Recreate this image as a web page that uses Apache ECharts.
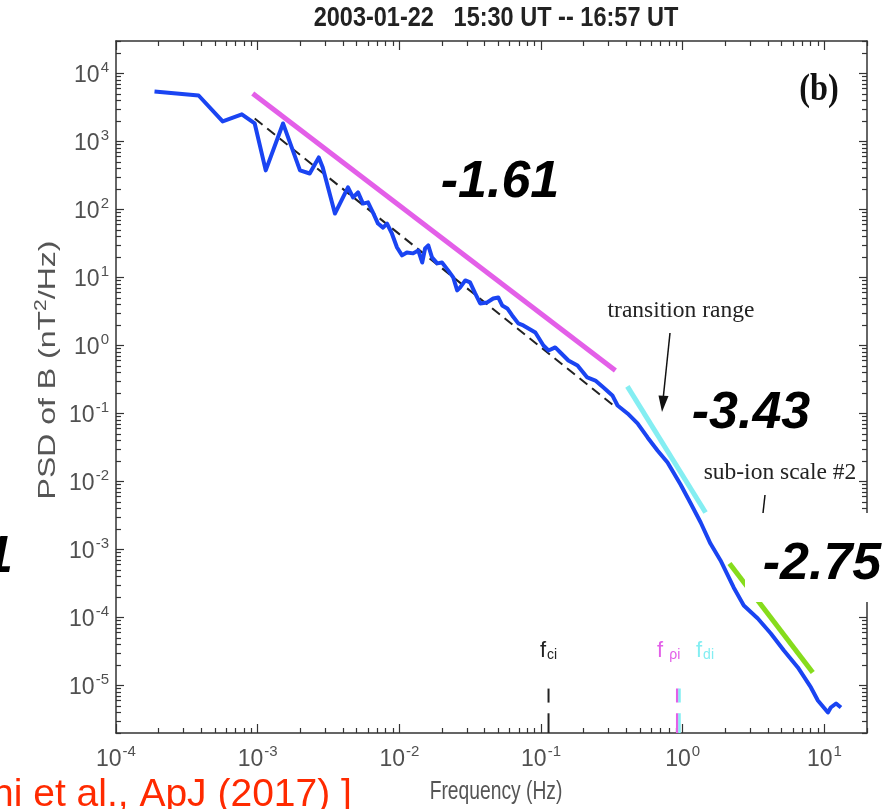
<!DOCTYPE html>
<html lang="en">
<head>
  <meta charset="UTF-8">
  <title>PSD of B</title>
  <script src="https://cdn.jsdelivr.net/npm/echarts@6/dist/echarts.min.js"></script>
  <style>
    html, body { margin: 0; padding: 0; background: #fff; }
    #chart { width: 884px; height: 809px; }
  </style>
</head>
<body>
  <div id="chart"></div>
</body>
</html>
<script>
  // PSD of B
  const freq = [1.87e-4, 3.83e-4, 5.66e-4, 7.73e-4, 9.53e-4, 1.14e-3, 1.51e-3, 1.99e-3, 2.33e-3, 2.70e-3,
    2.88e-3, 3.51e-3, 4.34e-3, 4.71e-3, 5.11e-3, 5.54e-3, 6.01e-3, 6.52e-3, 7.07e-3, 7.67e-3,
    8.19e-3, 8.87e-3, 9.63e-3, 1.045e-2, 1.13e-2, 1.25e-2, 1.36e-2, 1.45e-2, 1.52e-2, 1.60e-2,
    1.70e-2, 1.85e-2, 2.00e-2, 2.21e-2, 2.40e-2, 2.56e-2, 2.69e-2, 2.92e-2, 3.16e-2, 3.43e-2,
    3.72e-2, 4.17e-2, 4.60e-2, 4.99e-2, 5.32e-2, 5.78e-2, 6.26e-2, 6.91e-2, 7.50e-2, 9.12e-2,
    0.104, 0.113, 0.126, 0.137, 0.156, 0.181, 0.212, 0.242, 0.276, 0.319,
    0.347, 0.408, 0.480, 0.565, 0.664, 0.782, 0.966, 1.14, 1.34, 1.57,
    1.85, 2.29, 2.70, 3.39, 4.19, 5.18, 6.50, 8.04, 9.00, 10.6,
    11.1, 12.1, 13.1];
  const psd = [5430, 4740, 1970, 2500, 1840, 375, 1840, 375, 338, 582,
    415, 87, 211, 150, 178, 122, 127, 90, 62, 54,
    62, 44, 27.6, 21.1, 23.3, 22.6, 25, 16.6, 26.7, 29.6,
    19.7, 16.1, 16.6, 12.7, 10, 6.44, 7.13, 9.04, 8.44, 5.82,
    4.15, 4.29, 4.91, 5.08, 3.87, 3.50, 2.76, 2.11, 1.97, 1.55,
    1.0, 0.844, 0.935, 0.789, 0.601, 0.508, 0.338, 0.305, 0.241, 0.184,
    0.131, 0.1, 0.0713, 0.0444, 0.0286, 0.0190, 0.00904, 0.00474, 0.00249, 0.00122,
    6.89e-4, 2.76e-4, 1.50e-4, 9.66e-5, 5.82e-5, 3.27e-5, 1.84e-5, 9.35e-6, 6.01e-6, 4.01e-6,
    4.74e-6, 5.43e-6, 4.74e-6];

  // power-law fits: [start, end]
  const fitAll = [[9.53e-4, 2180], [0.325, 0.131]];      // black dashed
  const fit161 = [[9.23e-4, 5080], [0.335, 0.428]];      // magenta
  const fit343 = [[0.407, 0.250], [1.45, 3.50e-3]];      // cyan
  const fit275 = [[2.14, 6.22e-4], [8.28, 1.55e-5]];     // green

  // characteristic frequencies (Hz)
  const fCi = 0.113;
  const fRhoi = 0.915;
  const fDi = 0.95;
  const markTop = [9.0e-6, 5.6e-6];
  const markLow = [3.9e-6, 2e-6];

  const xMin = 1e-4, xMax = 20;
  const yMin = 2e-6, yMax = 3e4;
  const xDecades = [1e-4, 1e-3, 1e-2, 1e-1, 1, 10];
  const yDecades = [1e-5, 1e-4, 1e-3, 1e-2, 1e-1, 1, 10, 100, 1000, 10000];

  function minorTicks(lo, hi) {
    let out = [];
    for (let e = -7; e <= 5; e++) {
      for (let m = 2; m <= 9; m++) {
        let v = m * Math.pow(10, e);
        if (v >= lo && v <= hi) out.push(v);
      }
    }
    return out;
  }

  let myChart = echarts.init(document.getElementById('chart'));

  const axisColor = '#333';
  const sans = '"Liberation Sans", Arial, sans-serif';
  const serif = '"Liberation Serif", "Times New Roman", serif';
  const labelRich = {
    b: { fontSize: 23, color: '#505050', fontFamily: sans, verticalAlign: 'bottom' },
    s: { fontSize: 15, color: '#505050', fontFamily: sans, verticalAlign: 'bottom', padding: [0, 0, 12, 1] }
  };
  function powLabel(v) {
    let e = Math.round(Math.log10(v));
    return '{b|10}{s|' + e + '}';
  }

  function logAxis(grid, pos, min, max, ticks, len, showLine, labels, margin) {
    return {
      type: 'log', logBase: 10, gridIndex: grid, position: pos, min: min, max: max,
      axisLine: { show: showLine, onZero: false, lineStyle: { color: axisColor, width: 1.5 } },
      axisTick: { show: true, inside: true, length: len, customValues: ticks, lineStyle: { color: axisColor, width: 1.2 } },
      axisLabel: labels ? {
        show: true, customValues: labels, formatter: powLabel, rich: labelRich, margin: margin
      } : { show: false },
      splitLine: { show: false },
      minorTick: { show: false }
    };
  }

  const xMinor = minorTicks(xMin, xMax);
  const yMinor = minorTicks(yMin, yMax);

  let xAxes = [
    logAxis(0, 'bottom', xMin, xMax, xDecades, 9, true, xDecades, 11),
    logAxis(0, 'top', xMin, xMax, xDecades, 9, true, null),
    logAxis(1, 'bottom', xMin, xMax, xMinor, 5, false, null),
    logAxis(1, 'top', xMin, xMax, xMinor, 5, false, null)
  ];
  let yAxes = [
    logAxis(0, 'left', yMin, yMax, yDecades, 8, true, yDecades, 7),
    logAxis(0, 'right', yMin, yMax, yDecades, 8, true, null),
    logAxis(1, 'left', yMin, yMax, yMinor, 5, false, null),
    logAxis(1, 'right', yMin, yMax, yMinor, 5, false, null)
  ];

  function seg(data, color, width, type) {
    return {
      type: 'line', xAxisIndex: 0, yAxisIndex: 0, data: data, symbol: 'none', silent: true,
      lineStyle: { color: color, width: width, type: type || 'solid', cap: 'butt' }, z: 3
    };
  }

  let series = [
    seg(fit161, '#e35fe8', 5),
    seg(fitAll, '#222', 2, [10, 6]),
    seg(fit343, '#84eef2', 5),
    seg(fit275, '#86dc1c', 5),
    seg([[fCi, markTop[0]], [fCi, markTop[1]]], '#222', 2),
    seg([[fCi, markLow[0]], [fCi, markLow[1]]], '#222', 2),
    seg([[fRhoi, markTop[0]], [fRhoi, markTop[1]]], '#e35fe8', 2.5),
    seg([[fRhoi, markLow[0]], [fRhoi, markLow[1]]], '#e35fe8', 2.5),
    seg([[fDi, markTop[0]], [fDi, markTop[1]]], '#84eef2', 2.5),
    seg([[fDi, markLow[0]], [fDi, markLow[1]]], '#84eef2', 2.5),
    {
      type: 'line', xAxisIndex: 0, yAxisIndex: 0, symbol: 'none', silent: true, z: 4,
      data: freq.map((f, i) => [f, psd[i]]),
      lineStyle: { color: '#1a44f2', width: 4, join: 'round' }
    }
  ];

  const numFont = 'bold italic 52px ' + sans;

  myChart.setOption({
    animation: false,
    backgroundColor: '#fff',
    grid: [
      { left: 116, right: 17, top: 41, bottom: 76 },
      { left: 116, right: 17, top: 41, bottom: 76 }
    ],
    xAxis: xAxes,
    yAxis: yAxes,
    series: series,
    graphic: [
      {
        type: 'text', x: 496, y: 18, scaleX: 0.84, z: 100,
        style: { text: '2003-01-22   15:30 UT -- 16:57 UT', font: 'bold 28px ' + sans, fill: '#222', textAlign: 'center', textVerticalAlign: 'middle' }
      },
      {
        type: 'text', x: 496, y: 792, scaleX: 0.77, z: 100,
        style: { text: 'Frequency (Hz)', font: '25px ' + sans, fill: '#555', textAlign: 'center', textVerticalAlign: 'middle' }
      },
      {
        type: 'text', x: 47, y: 370, rotation: Math.PI / 2, scaleY: 0.75, z: 100,
        style: {
          text: '{a|PSD of B (nT}{s|2}{a|/Hz)}', textAlign: 'center', textVerticalAlign: 'middle',
          rich: {
            a: { fontSize: 32, fill: '#555', fontFamily: sans, verticalAlign: 'bottom' },
            s: { fontSize: 21, fill: '#555', fontFamily: sans, verticalAlign: 'bottom', padding: [0, 0, 14, 0] }
          }
        }
      },
      {
        type: 'text', x: 819, y: 90, scaleX: 0.85, z: 100,
        style: { text: '(b)', font: 'bold 38px ' + serif, fill: '#111', textAlign: 'center', textVerticalAlign: 'middle' }
      },
      {
        type: 'text', x: 500, y: 183, z: 100,
        style: { text: '-1.61', font: numFont, fill: '#000', textAlign: 'center', textVerticalAlign: 'middle' }
      },
      {
        type: 'text', x: 751, y: 414, z: 100,
        style: { text: '-3.43', font: numFont, fill: '#000', textAlign: 'center', textVerticalAlign: 'middle' }
      },
      {
        type: 'rect', z: 99, shape: { x: 745, y: 513, width: 145, height: 89 },
        style: { fill: '#fff' }
      },
      {
        type: 'text', x: 822, y: 565, z: 100,
        style: { text: '-2.75', font: numFont, fill: '#000', textAlign: 'center', textVerticalAlign: 'middle' }
      },
      {
        type: 'text', x: 13, y: 558, z: 100,
        style: { text: '1', font: numFont, fill: '#000', textAlign: 'right', textVerticalAlign: 'middle' }
      },
      {
        type: 'text', x: 681, y: 311, z: 100,
        style: { text: 'transition range', font: '23.5px ' + serif, fill: '#222', textAlign: 'center', textVerticalAlign: 'middle' }
      },
      {
        type: 'line', z: 100, shape: { x1: 670, y1: 333, x2: 663, y2: 400 },
        style: { stroke: '#111', lineWidth: 1.5 }
      },
      {
        type: 'polygon', z: 100, shape: { points: [[662, 412], [668.5, 396], [658.5, 395.5]] },
        style: { fill: '#111' }
      },
      {
        type: 'text', x: 780, y: 473, z: 100,
        style: { text: 'sub-ion scale #2', font: '23.5px ' + serif, fill: '#222', textAlign: 'center', textVerticalAlign: 'middle' }
      },
      {
        type: 'line', z: 100, shape: { x1: 765, y1: 495, x2: 763, y2: 513 },
        style: { stroke: '#111', lineWidth: 1.5 }
      },
      {
        type: 'text', x: 540, y: 651, z: 100,
        style: {
          text: '{f|f}{s|ci}', textVerticalAlign: 'middle',
          rich: {
            f: { fontSize: 22, fill: '#222', fontFamily: sans, verticalAlign: 'bottom' },
            s: { fontSize: 14, fill: '#222', fontFamily: sans, verticalAlign: 'bottom', padding: [0, 0, 0, 1] }
          }
        }
      },
      {
        type: 'text', x: 657, y: 651, z: 100,
        style: {
          text: '{f|f }{s|ρi}', textVerticalAlign: 'middle',
          rich: {
            f: { fontSize: 22, fill: '#e35fe8', fontFamily: sans, verticalAlign: 'bottom' },
            s: { fontSize: 14, fill: '#e35fe8', fontFamily: sans, verticalAlign: 'bottom' }
          }
        }
      },
      {
        type: 'text', x: 696, y: 651, z: 100,
        style: {
          text: '{f|f}{s|di}', textVerticalAlign: 'middle',
          rich: {
            f: { fontSize: 22, fill: '#84eef2', fontFamily: sans, verticalAlign: 'bottom' },
            s: { fontSize: 14, fill: '#84eef2', fontFamily: sans, verticalAlign: 'bottom', padding: [0, 0, 0, 1] }
          }
        }
      },
      {
        type: 'text', x: -8, y: 776, z: 100,
        style: { text: 'ni et al., ApJ (2017) ]', font: '39px ' + sans, fill: '#ff2a00', textAlign: 'left', textVerticalAlign: 'top' }
      }
    ]
  });
</script>
